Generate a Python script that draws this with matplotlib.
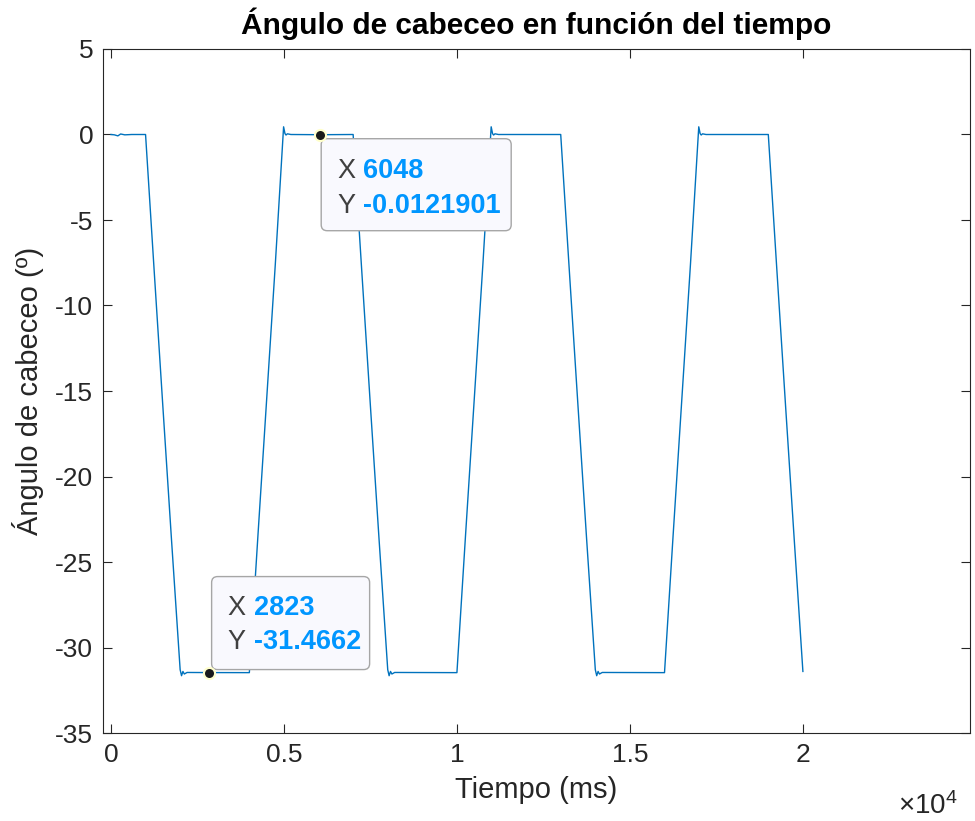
import matplotlib
matplotlib.use("Agg")
import matplotlib.pyplot as plt
from matplotlib.patches import FancyBboxPatch
from matplotlib.transforms import ScaledTranslation

plt.rcParams['font.family'] = ['Liberation Sans', 'DejaVu Sans']
plt.rcParams['axes.unicode_minus'] = False
plt.rcParams['mathtext.fontset'] = 'custom'
plt.rcParams['mathtext.rm'] = 'Liberation Sans'

# pitch angle trace (ms, degrees)
t_ms = [0, 100, 200, 280, 400, 600, 1000,
        1250, 1500, 1750, 2000, 2040, 2080, 2120, 2200, 2823, 4000,
        4250, 4500, 4750, 4990, 5030, 5060, 5100, 5200, 6048, 7000,
        7250, 7500, 7750, 8000, 8040, 8080, 8120, 8200, 10000,
        10250, 10500, 10750, 10990, 11030, 11060, 11100, 11200, 13000,
        13250, 13500, 13750, 14000, 14040, 14080, 14120, 14200, 16000,
        16250, 16500, 16750, 16990, 17030, 17060, 17100, 17200, 19000,
        19250, 19500, 19750, 20000]
ang_deg = [0, -0.02, -0.08, 0.03, -0.02, 0, 0,
           -8.0, -15.9, -23.7, -31.3, -31.65, -31.4, -31.55, -31.46, -31.4662, -31.47,
           -23.4, -15.5, -7.6, 0.45, 0.05, -0.03, 0.04, 0, -0.0121901, 0,
           -8.0, -15.9, -23.7, -31.3, -31.65, -31.4, -31.55, -31.46, -31.47,
           -23.4, -15.5, -7.6, 0.45, 0.05, -0.03, 0.04, 0, 0,
           -8.0, -15.9, -23.7, -31.3, -31.65, -31.4, -31.55, -31.46, -31.47,
           -23.4, -15.5, -7.6, 0.45, 0.05, -0.03, 0.04, 0, 0,
           -8.0, -15.9, -23.7, -31.4]

x_ticks = [0, 5000, 10000, 15000, 20000]
x_tick_labels = ['0', '0.5', '1', '1.5', '2']
y_ticks = [-35, -30, -25, -20, -15, -10, -5, 0, 5]

# data tips: (x, y, x text, y text, box in inches from the point, row heights)
tips = [
    (6048, -0.0121901, '6048', '-0.0121901', (0.01, -0.96, 1.90, 0.92), (-0.36, -0.71)),
    (2823, -31.4662, '2823', '-31.4662', (0.03, 0.03, 1.58, 0.93), (0.65, 0.31)),
]

fig = plt.figure(figsize=(9.75, 8.21), dpi=100)
ax = fig.add_axes([103/975, 88/821, 867/975, 684/821])

ax.plot(t_ms, ang_deg, color='#0072BD', lw=1.0)

ax.set_xlim(-230, 24830)
ax.set_ylim(-35, 5)
ax.set_xticks(x_ticks)
ax.set_xticklabels(x_tick_labels)
ax.set_yticks(y_ticks)
ax.tick_params(direction='in', top=True, right=True, length=6.3, width=0.8,
               labelsize=19, color='#262626', labelcolor='#262626')
ax.tick_params(axis='x', pad=7)
ax.tick_params(axis='y', pad=7)
for s in ax.spines.values():
    s.set_color('#262626')
    s.set_linewidth(0.8)

ax.set_title('Ángulo de cabeceo en función del tiempo', fontsize=21.5,
             fontweight='bold', pad=11)
ax.set_xlabel('Tiempo (ms)', fontsize=21, color='#262626', labelpad=7)
ax.set_ylabel('Ángulo de cabeceo (º)', fontsize=21, color='#262626', labelpad=8)
ax.text(0.986, -0.107, r'×$\mathregular{10^4}$', transform=ax.transAxes,
        ha='right', va='center', fontsize=20, color='#262626')

for x, y, xs, ys, box, rows in tips:
    tr = fig.dpi_scale_trans + ScaledTranslation(x, y, ax.transData)
    x0, y0, w, h = box
    ax.add_patch(FancyBboxPatch((x0, y0), w, h,
                                boxstyle='round,pad=0,rounding_size=0.06',
                                transform=tr, fc='#F9F9FE', ec='#A6A6A6',
                                lw=1.0, zorder=5, clip_on=False))
    ax.plot([x], [y], 'o', ms=8, mfc='#1a1a1a', mec='#FFFFCC', mew=1.5,
            zorder=6, clip_on=False)
    for lab, val, ry in (('X', xs, rows[0]), ('Y', ys, rows[1])):
        ax.text(x0 + 0.16, ry, lab, transform=tr, ha='left', va='center',
                fontsize=19.5, color='#404040', zorder=7)
        ax.text(x0 + 0.42, ry, val, transform=tr, ha='left', va='center',
                fontsize=19.5, color='#0096FF', fontweight='bold', zorder=7)

fig.savefig('out.png', dpi=100)
